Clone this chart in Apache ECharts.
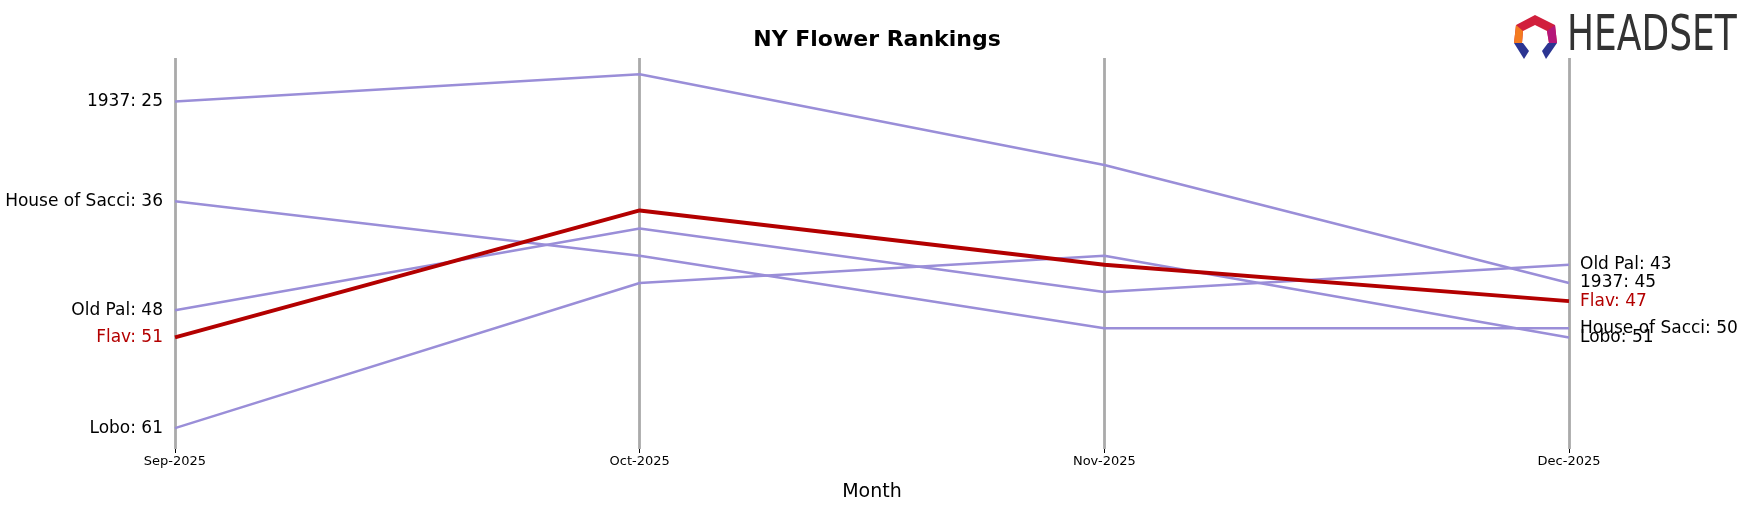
<!DOCTYPE html>
<html>
<head>
<meta charset="utf-8">
<script src="https://cdn.jsdelivr.net/npm/echarts@6/dist/echarts.min.js"></script>
<style>html,body{margin:0;padding:0;background:#fff}#chart{width:1751px;height:507px}</style>
</head>
<body>
<div id="chart"></div>
<script>
// data
var months = ["Sep-2025", "Oct-2025", "Nov-2025", "Dec-2025"];
var brands = ["1937", "House of Sacci", "Old Pal", "Lobo", "Flav"];
var rank1937 = [25, 22, 32, 45];
var rankSacci = [36, 42, 50, 50];
var rankOldPal = [48, 39, 46, 43];
var rankLobo = [61, 45, 42, 51];
var rankFlav = [51, 37, 43, 47];

var ranks = [rank1937, rankSacci, rankOldPal, rankLobo, rankFlav];
var purple = "#9a8ed8";
var red = "#b30000";

var myChart = echarts.init(document.getElementById("chart"));

var series = brands.map(function (name, i) {
    var isFlav = name === "Flav";
    var col = isFlav ? red : purple;
    var txt = isFlav ? red : "#000";
    var vals = ranks[i];
    return {
        name: name,
        type: "line",
        symbol: "circle",
        symbolSize: 2,
        showSymbol: true,
        showAllSymbol: true,
        itemStyle: { color: "rgba(0,0,0,0)", borderWidth: 0 },
        z: isFlav ? 5 : 2,
        lineStyle: { color: col, width: isFlav ? 4 : 2.5 },
        labelLayout: { hideOverlap: false },
        data: vals.map(function (v, j) {
            var item = { value: v };
            if (j === 0) {
                item.label = { show: true, position: "left", distance: 11, formatter: name + ": " + v, color: txt, fontSize: 17 };
            } else if (j === vals.length - 1) {
                item.label = { show: true, position: "right", distance: 10, formatter: name + ": " + v, color: txt, fontSize: 17 };
            }
            return item;
        })
    };
});

var option = {
    animation: false,
    title: {
        text: "NY Flower Rankings",
        left: 872, top: 24, textAlign: "center",
        textStyle: { fontSize: 22, fontWeight: "bold", color: "#000", fontFamily: "DejaVu Sans" }
    },
    textStyle: { fontFamily: "DejaVu Sans" },
    grid: { left: 175, right: 182, top: 58, bottom: 55 },
    xAxis: {
        type: "category",
        data: months,
        boundaryGap: false,
        name: "Month",
        nameLocation: "middle",
        nameGap: 34,
        nameTextStyle: { fontSize: 19, color: "#000" },
        axisLine: { show: false },
        axisTick: { show: true, lineStyle: { color: "#000" }, length: 4 },
        axisLabel: { fontSize: 13, color: "#000", margin: 6 },
        splitLine: { show: true, lineStyle: { color: "#aaaaaa", width: 2.8 } }
    },
    yAxis: {
        type: "value",
        inverse: true,
        min: 20.2,
        max: 63.3,
        show: false
    },
    series: series,
    graphic: [
        {
            type: "group", left: 1514, top: 15,
            children: [
                { type: "polygon", shape: { points: [[3, 10], [22, 0], [42, 10], [44, 28], [36, 28], [34, 16], [22, 10], [10, 16], [9, 28], [1, 28]] }, style: { fill: "#d11f3c" } },
                { type: "polygon", shape: { points: [[3, 10], [10, 16], [9, 28], [1, 28]] }, style: { fill: "#f47b20" } },
                { type: "polygon", shape: { points: [[42, 10], [34, 16], [36, 28], [44, 28]] }, style: { fill: "#b5177a" } },
                { type: "polygon", shape: { points: [[1, 28], [10, 28], [16, 36], [11, 44]] }, style: { fill: "#2c3592" } },
                { type: "polygon", shape: { points: [[44, 28], [35, 28], [29, 36], [33, 44]] }, style: { fill: "#2c3592" } }
            ]
        },
        { type: "text", x: 1567, y: 12, scaleX: 0.72, style: { text: "HEADSET", fill: "#333333", fontSize: 50, fontFamily: "DejaVu Sans" } }
    ]
};

myChart.setOption(option);
</script>
</body>
</html>
